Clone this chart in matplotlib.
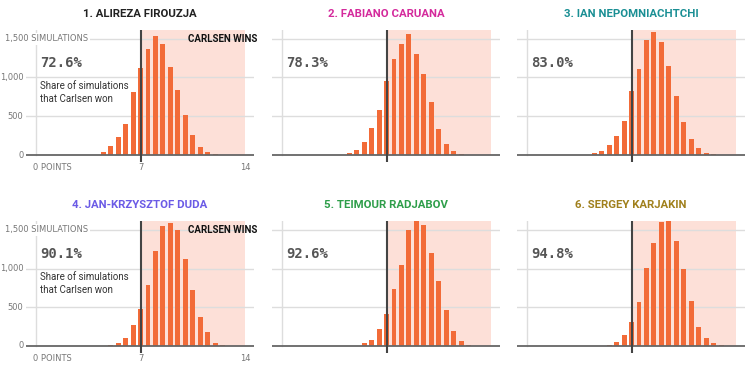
import numpy as np
import matplotlib
matplotlib.use("Agg")
import matplotlib.pyplot as plt
from matplotlib.patches import Rectangle

# data: simulated final scores (in half points) for each opponent
titles = [
    "1. ALIREZA FIROUZJA",
    "2. FABIANO CARUANA",
    "3. IAN NEPOMNIACHTCHI",
    "4. JAN-KRZYSZTOF DUDA",
    "5. TEIMOUR RADJABOV",
    "6. SERGEY KARJAKIN",
]
title_colors = ["#222222", "#d42a9c", "#1a8f94", "#6b5be6", "#2e9e4a", "#a0801c"]
win_shares = ["72.6%", "78.3%", "83.0%", "90.1%", "92.6%", "94.8%"]

points = np.arange(3.5, 13.01, 0.5)
# counts per point bin, 3.5 .. 13.0
firouzja = [0, 0, 34, 116, 232, 395, 812, 1122, 1367, 1539, 1436, 1135, 834, 516, 254, 103, 39, 9, 0, 0]
caruana = [4, 4, 26, 65, 165, 348, 587, 961, 1243, 1435, 1557, 1309, 1048, 687, 330, 139, 48, 13, 0, 0]
nepo = [0, 0, 22, 49, 125, 240, 436, 828, 1104, 1487, 1593, 1455, 1148, 761, 432, 209, 85, 27, 9, 0]
duda = [0, 0, 0, 13, 43, 108, 268, 476, 782, 1228, 1548, 1582, 1500, 1120, 722, 376, 177, 43, 17, 0]
radjabov = [0, 0, 0, 5, 35, 79, 219, 408, 732, 1048, 1500, 1623, 1557, 1202, 838, 461, 197, 70, 18, 0]
karjakin = [0, 0, 0, 0, 13, 53, 142, 310, 571, 1009, 1323, 1597, 1668, 1350, 1000, 584, 243, 102, 35, 9]
series = [firouzja, caruana, nepo, duda, radjabov, karjakin]

y_ticks = [0, 500, 1000, 1500]
x_ticks = [0, 7, 14]

W, H = 752, 366
fig = plt.figure(figsize=(W / 100, H / 100), dpi=100)

cond = ["Liberation Sans Narrow", "DejaVu Sans"]
sans = ["Roboto", "DejaVu Sans"]
bar_color = "#f26b38"
shade_color = "#fde0d8"
grid_color = "#dddddd"
tick_color = "#777777"

ylo, yhi = -85, 1615
lefts = [26, 272, 517]
zeros = [155, 346]  # pixel row of y=0 per row
ax_w = 228
ppu = 0.0775  # px per simulation

for i, counts in enumerate(series):
    row, col = divmod(i, 3)
    top_px = zeros[row] - yhi * ppu
    bot_px = zeros[row] - ylo * ppu
    ax = fig.add_axes([lefts[col] / W, 1 - bot_px / H, ax_w / W, (bot_px - top_px) / H])
    ax.set_xlim(-0.67, 14.6)
    ax.set_ylim(ylo, yhi)
    for s in ax.spines.values():
        s.set_visible(False)
    ax.set_xticks([])
    ax.set_yticks([])

    # shaded "Carlsen wins" region
    ax.add_patch(Rectangle((7, 0), 7, yhi, color=shade_color, lw=0, zorder=0))
    # gridlines
    for v in y_ticks[1:]:
        ax.axhline(v, color=grid_color, lw=1, zorder=0.5)
    ax.plot([0, 0], [0, yhi], color=grid_color, lw=1, zorder=0.5)

    ax.bar(points, counts, width=0.33, color=bar_color, zorder=2)
    ax.axhline(0, color="#666666", lw=1.3, zorder=3)
    ax.axvline(7, color="#444444", lw=1.5, zorder=4)

    ax.set_title(titles[i], color=title_colors[i], fontsize=8.2, fontweight="bold",
                 family=sans, pad=9)

    ax.text(0.3, 1190, win_shares[i], family="DejaVu Sans Mono", fontweight="bold",
            fontsize=10, color="#555555", va="center", ha="left")

    if col == 0:
        ax.text(0.3, 950, "Share of simulations\nthat Carlsen won", fontsize=7,
                color="#333333", va="top", ha="left", linespacing=1.3,
                family=sans)
        ax.text(14.85, 1500, "CARLSEN WINS", fontsize=7, fontweight="bold",
                color="#111111", ha="right", va="center",
                family=sans, clip_on=False)
        # y tick labels
        for v in y_ticks:
            if v == 1500:
                ax.text(-2.05, v, "1,500 SIMULATIONS", fontsize=6, family=cond,
                        color=tick_color, ha="left", va="center", zorder=5,
                        clip_on=False,
                        bbox=dict(facecolor="white", edgecolor="none", pad=1.2))
            else:
                ax.text(-0.85, v, f"{v:,}", fontsize=6, family=cond, color=tick_color,
                        ha="right", va="center", zorder=5, clip_on=False,
                        bbox=dict(facecolor="white", edgecolor="none", pad=1.2))
        # x tick labels
        for v in x_ticks:
            lab = "0 POINTS" if v == 0 else str(v)
            ax.text(v - (0.2 if v == 0 else 0), -160, lab,
                    fontsize=6, family=cond, color=tick_color,
                    ha="left" if v == 0 else "center", va="center", clip_on=False)

fig.savefig("out.png", dpi=100)
